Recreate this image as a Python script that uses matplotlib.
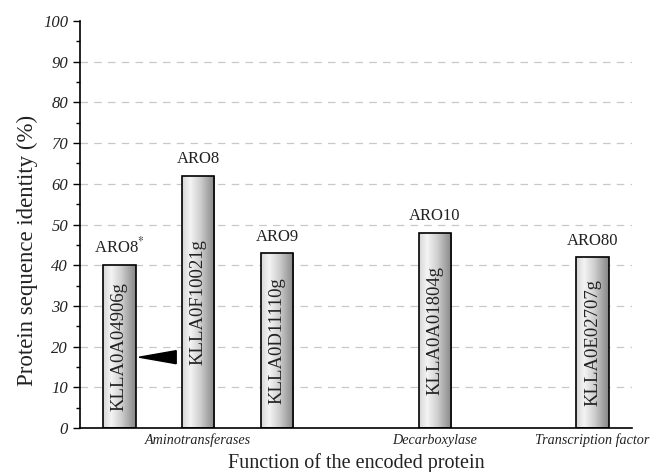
import numpy as np
import matplotlib
matplotlib.use("Agg")
import matplotlib.pyplot as plt
from matplotlib.colors import LinearSegmentedColormap
from matplotlib.patches import Polygon

plt.rcParams['font.family'] = ['Liberation Serif', 'DejaVu Serif']
plt.rcParams['mathtext.fontset'] = 'stix'

# data
positions = [1, 2, 3, 5, 7]
identity = [40, 62, 43, 48, 42]
gene_names = ['ARO8$^{*}$', 'ARO8', 'ARO9', 'ARO10', 'ARO80']
locus_tags = ['KLLA0A04906g', 'KLLA0F10021g', 'KLLA0D11110g', 'KLLA0A01804g', 'KLLA0E02707g']
group_pos = [2, 5, 7]
group_names = ['Aminotransferases', 'Decarboxylase', 'Transcription factor']
# arrowhead marker next to the first bar (x, y)
arrow_x = [1.25, 1.72, 1.72]
arrow_y = [17.4, 19.0, 15.8]

bar_w = 0.41
grad = LinearSegmentedColormap.from_list(
    'bar', [(0, '#d6d6d6'), (0.25, '#f4f4f4'), (0.55, '#d0d0d0'), (1, '#858585')])

fig = plt.figure(figsize=(6.62, 4.72), dpi=100)
ax = fig.add_axes([0.1208, 0.0932, 0.834, 0.8623])

ax.set_xlim(0.5, 7.5)
ax.set_ylim(0, 100)

ax.set_yticks(np.arange(0, 101, 10))
ax.set_yticks(np.arange(0, 101, 5), minor=True)
for y in range(10, 100, 10):
    ax.axhline(y, color='#c8c8c8', lw=0.9, dashes=(6, 5), zorder=0)

bars = ax.bar(positions, identity, width=bar_w, facecolor='none',
              edgecolor='black', linewidth=1.2, zorder=3)
gimg = np.linspace(0, 1, 256).reshape(1, -1)
for b in bars:
    x0, w, h = b.get_x(), b.get_width(), b.get_height()
    im = ax.imshow(gimg, cmap=grad, aspect='auto', extent=(x0, x0 + w, 0, h),
                   zorder=2, interpolation='bilinear')
    im.set_clip_path(b)

for x, v, g, t in zip(positions, identity, gene_names, locus_tags):
    ax.annotate(g, (x, v), xytext=(0, 6), textcoords='offset points',
                ha='center', va='bottom', fontsize=12, color='#222222')
    ax.text(x, v / 2, t, rotation=90, ha='center', va='center', fontsize=13.5,
            color='#222222', zorder=4)

ax.add_patch(Polygon(np.column_stack([arrow_x, arrow_y]), closed=True,
                     facecolor='black', edgecolor='black', zorder=4))

ax.set_xticks(group_pos)
ax.set_xticklabels(group_names, style='italic', fontsize=10.2, color='#222222')
ax.tick_params(axis='x', length=0, pad=4)
ax.tick_params(axis='y', which='major', direction='out', length=5, width=1,
               labelsize=12, labelcolor='#222222')
ax.tick_params(axis='y', which='minor', direction='out', length=3, width=1)
for lab in ax.get_yticklabels():
    lab.set_style('italic')

ax.spines['top'].set_visible(False)
ax.spines['right'].set_visible(False)
ax.spines['left'].set_linewidth(1.2)
ax.spines['bottom'].set_linewidth(1.2)

ax.set_ylabel('Protein sequence identity (%)', fontsize=16.5, color='#222222')
ax.yaxis.set_label_coords(-0.076, 0.437)
ax.set_xlabel('Function of the encoded protein', fontsize=14.5, labelpad=4, color='#222222')

fig.savefig('out.png', dpi=100)
